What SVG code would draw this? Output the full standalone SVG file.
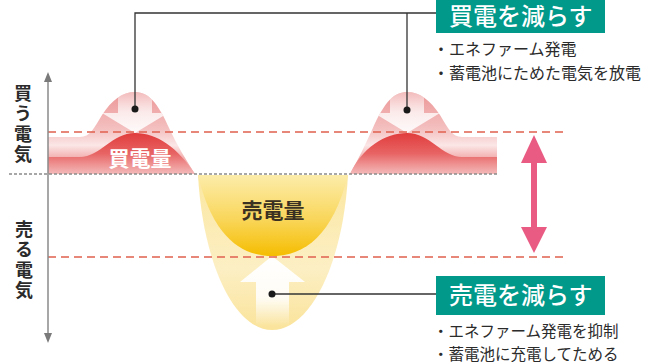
<svg xmlns="http://www.w3.org/2000/svg" width="663" height="363" viewBox="0 0 663 363">
<style>
.jp{font-family:"Noto Sans CJK JP","Noto Sans",sans-serif;}
.axis-lbl{font-size:18px;font-weight:700;fill:#2b2b2b;writing-mode:vertical-rl;letter-spacing:2.5px;}
.box{fill:#00998a;}
.box-t{font-size:24px;font-weight:500;fill:#ffffff;}
.bul{font-size:16px;fill:#2b2b2b;}
.bul2{font-size:15.5px;fill:#2b2b2b;}
.conn{stroke:#333;stroke-width:1.3;fill:none;}
.dot{fill:#1a1a1a;}
.reddash{stroke:#e0604f;stroke-width:1.6;stroke-dasharray:8 5;fill:none;}
.graydash{stroke:#8a8a8a;stroke-width:1.6;stroke-dasharray:3 2;fill:none;}
</style>
<defs>
<linearGradient id="gOuter" x1="0" y1="92" x2="0" y2="174" gradientUnits="userSpaceOnUse">
<stop offset="0" stop-color="#ec9696"/>
<stop offset="0.45" stop-color="#f4c0c0"/>
<stop offset="0.65" stop-color="#fbe6e6"/>
<stop offset="0.8" stop-color="#f3b0b0"/>
<stop offset="1" stop-color="#f3b0b0"/>
</linearGradient>
<linearGradient id="gRed" x1="0" y1="133" x2="0" y2="174" gradientUnits="userSpaceOnUse">
<stop offset="0" stop-color="#e13c3c"/>
<stop offset="0.5" stop-color="#e86464"/>
<stop offset="1" stop-color="#f4baba"/>
</linearGradient>
<linearGradient id="gYOuter" x1="0" y1="175" x2="0" y2="330" gradientUnits="userSpaceOnUse">
<stop offset="0" stop-color="#fbe7a0"/>
<stop offset="0.6" stop-color="#fcefc4"/>
<stop offset="1" stop-color="#fae39a"/>
</linearGradient>
<linearGradient id="gGold" x1="0" y1="175" x2="0" y2="256" gradientUnits="userSpaceOnUse">
<stop offset="0" stop-color="#fcecaa"/>
<stop offset="0.55" stop-color="#f9d65a"/>
<stop offset="1" stop-color="#f5bd00"/>
</linearGradient>
<linearGradient id="gArrowDown" x1="0" y1="92" x2="0" y2="133" gradientUnits="userSpaceOnUse">
<stop offset="0" stop-color="#ffffff" stop-opacity="0.35"/>
<stop offset="0.5" stop-color="#ffffff" stop-opacity="0.75"/>
<stop offset="1" stop-color="#ffffff" stop-opacity="0.9"/>
</linearGradient>
<linearGradient id="gArrowUp" x1="0" y1="256" x2="0" y2="326" gradientUnits="userSpaceOnUse">
<stop offset="0" stop-color="#ffffff" stop-opacity="1"/>
<stop offset="0.6" stop-color="#ffffff" stop-opacity="0.85"/>
<stop offset="1" stop-color="#ffffff" stop-opacity="0"/>
</linearGradient>
<clipPath id="clipL"><path d="M48,137 L80,137 C90,137 94,128 102,115 C112,100 122,92 135,92 C147,92 157,100 170,130 C177,145 186,160 195,174 L48,174 Z"/></clipPath>
<clipPath id="clipR"><path d="M350,174 C358,160 365,145 372,130 C385,100 395,92 407,92 C420,92 430,100 440,115 C448,128 452,137 462,137 L497,137 L497,174 Z"/></clipPath>
</defs>

<g id="buy-left">
<path d="M48,137 L80,137 C90,137 94,128 102,115 C112,100 122,92 135,92 C147,92 157,100 170,130 C177,145 186,160 195,174 L48,174 Z" fill="url(#gOuter)"/>
<path d="M48,157 L80,157 C100,157 112,133 135,133 C157,133 178,148 195,174 L48,174 Z" fill="url(#gRed)"/>
<polygon clip-path="url(#clipL)" points="118,88 152,88 152,113 168,113 135,133 102,113 118,113" fill="url(#gArrowDown)"/>
<text class="jp" x="140" y="166" font-size="21" font-weight="700" fill="#ffffff" text-anchor="middle">買電量</text>
</g>

<g id="buy-right">
<path d="M350,174 C358,160 365,145 372,130 C385,100 395,92 407,92 C420,92 430,100 440,115 C448,128 452,137 462,137 L497,137 L497,174 Z" fill="url(#gOuter)"/>
<path d="M350,174 C362,148 385,133 407,133 C430,133 442,157 462,157 L497,157 L497,174 Z" fill="url(#gRed)"/>
<polygon clip-path="url(#clipR)" points="390,88 424,88 424,113 440,113 407,133 374,113 390,113" fill="url(#gArrowDown)"/>
</g>

<g id="sell">
<path d="M198,175 C203,265 235,330 272,330 C310,330 343,265 348,175 Z" fill="url(#gYOuter)"/>
<path d="M198,175 C212,235 240,256 272,256 C305,256 333,235 348,175 Z" fill="url(#gGold)"/>
<polygon points="272,256 305,282 289,282 289,326 256,326 256,282 240,282" fill="url(#gArrowUp)"/>
<text class="jp" x="273" y="218" font-size="21" font-weight="700" fill="#3a3122" text-anchor="middle">売電量</text>
</g>

<g id="guides">
<line class="reddash" x1="48" y1="132" x2="566" y2="132"/>
<line class="reddash" x1="48" y1="257" x2="566" y2="257"/>
<line class="graydash" x1="9" y1="174" x2="497" y2="174"/>
</g>

<g id="axis">
<line x1="48" y1="80" x2="48" y2="335" stroke="#8a8a8a" stroke-width="1.5"/>
<polygon points="48,72 44,82 52,82" fill="#7a7a7a"/>
<polygon points="48,343 44,333 52,333" fill="#7a7a7a"/>
<text class="jp axis-lbl" x="23" y="84">買う電気</text>
<text class="jp axis-lbl" x="24" y="220">売る電気</text>
</g>

<g id="range-arrow">
<rect x="531" y="160" width="6" height="70" fill="#e95b82"/>
<polygon points="534,135 547,163 521,163" fill="#e95b82"/>
<polygon points="534,253 547,227 521,227" fill="#e95b82"/>
</g>

<g id="connectors">
<polyline class="conn" points="135,109 135,13 436,13"/>
<line class="conn" x1="407" y1="13" x2="407" y2="110"/>
<line class="conn" x1="272" y1="294" x2="436" y2="294"/>
<circle class="dot" cx="135" cy="109" r="3.5"/>
<circle class="dot" cx="407" cy="110" r="3.5"/>
<circle class="dot" cx="272" cy="294" r="3.5"/>
</g>

<g id="label-buy">
<rect class="box" x="436" y="-6" width="169" height="39"/>
<text class="jp box-t" x="449" y="25">買電を減らす</text>
<text class="jp bul" x="433" y="55">・エネファーム発電</text>
<text class="jp bul" x="433" y="79">・蓄電池にためた電気を放電</text>
</g>

<g id="label-sell">
<rect class="box" x="436" y="276" width="169" height="39"/>
<text class="jp box-t" x="449" y="304">売電を減らす</text>
<text class="jp bul2" x="433" y="337">・エネファーム発電を抑制</text>
<text class="jp bul2" x="433" y="359.5">・蓄電池に充電してためる</text>
</g>
</svg>
